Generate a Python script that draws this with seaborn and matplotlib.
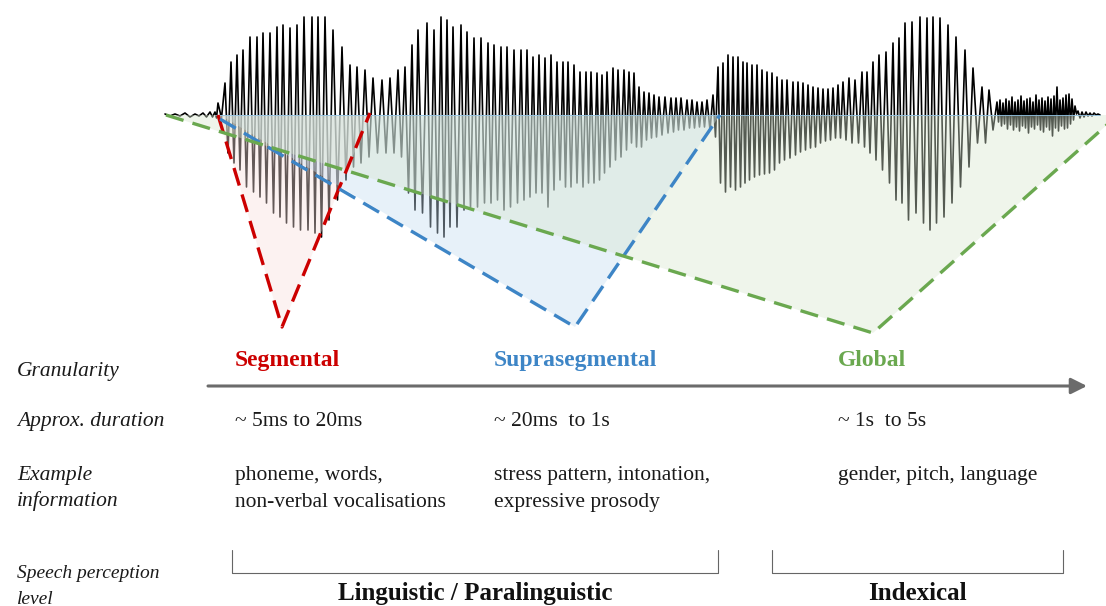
import numpy as np
import matplotlib
matplotlib.use("Agg")
import matplotlib.pyplot as plt
import seaborn as sns
import pandas as pd

# ---- waveform (pixel units, baseline y=115) ----
crest_x = [165, 175, 185, 195, 203, 210, 215, 218,
           225, 231, 237, 243, 250, 257, 263, 270, 277, 283, 290, 297, 304, 312,
           318, 325, 333, 342, 350, 357, 365, 373, 382, 390, 398, 405, 412, 418,
           427, 434, 441, 447, 453, 461, 467, 474, 481, 488, 494, 501, 507, 514,
           521, 527, 533, 539, 545, 551, 557, 563, 568, 574, 580, 586, 591, 597,
           602, 607, 613, 618, 624, 629, 634, 639, 644, 649, 654, 659, 665, 671,
           676, 681, 687, 692, 697, 702, 707, 713,
           718, 723, 728, 733, 738, 743, 747, 752, 757, 762, 767, 772, 777, 782,
           787, 793, 798, 803, 808, 813, 818, 823, 828, 833, 838, 843, 849, 855,
           862, 867, 873, 879, 886, 893, 899, 905, 912, 920, 927, 933, 940, 948,
           956, 965, 973, 982, 989, 997,
           1000, 1003, 1006, 1009, 1012, 1015, 1018, 1021, 1024, 1027, 1030, 1033,
           1036, 1039, 1042, 1045, 1048, 1051, 1054, 1057, 1060, 1063, 1066, 1069,
           1072, 1075, 1078, 1082, 1086, 1090, 1094, 1098]
crest_y = [114, 114, 113, 114, 113, 112, 112, 103,
           83, 62, 55, 50, 37, 37, 33, 33, 27, 25, 28, 25, 17, 17,
           17, 17, 30, 47, 65, 67, 70, 78, 80, 78, 70, 67, 45, 30,
           23, 30, 17, 20, 27, 25, 32, 38, 38, 43, 45, 47, 47, 50,
           50, 50, 57, 55, 58, 55, 62, 62, 62, 65, 72, 72, 72, 73,
           75, 72, 68, 70, 70, 72, 73, 87, 92, 93, 95, 97, 97, 98,
           98, 98, 100, 100, 102, 102, 100, 95,
           67, 63, 55, 57, 57, 62, 63, 65, 65, 70, 72, 73, 77, 80,
           80, 82, 82, 83, 85, 87, 88, 89, 89, 88, 85, 82, 78, 80,
           72, 72, 62, 55, 52, 43, 38, 23, 22, 17, 18, 17, 18, 25,
           37, 50, 68, 87, 90, 102,
           100, 103, 99, 101, 97, 102, 100, 96, 101, 99, 98, 102,
           95, 100, 98, 101, 97, 99, 96, 87, 100, 98, 95, 94,
           99, 106, 111, 112, 112, 113, 113, 114]
trough_y = [116, 116, 117, 116, 117, 117, 118, 118,
            153, 163, 170, 187, 192, 197, 203, 213, 217, 223, 227, 230, 230, 233,
            237, 220, 200, 180, 167, 163, 157, 153, 153, 153, 157, 193, 210, 213,
            227, 233, 237, 227, 227, 210, 207, 207, 203, 203, 200, 210, 207, 203,
            200, 197, 193, 193, 207, 190, 180, 187, 187, 183, 187, 183, 183, 180,
            173, 167, 160, 157, 150, 143, 147, 147, 140, 138, 137, 135, 133, 132,
            130, 130, 128, 128, 127, 127, 130, 137,
            183, 192, 187, 190, 187, 183, 180, 177, 175, 174, 173, 170, 163, 160,
            158, 155, 152, 150, 148, 147, 143, 141, 140, 138, 138, 140, 143, 143,
            147, 153, 160, 170, 183, 200, 203, 220, 213, 223, 230, 223, 217, 203,
            187, 167, 143, 143, 130, 122,
            126, 124, 129, 125, 130, 127, 131, 126, 128, 133, 127, 129,
            125, 130, 132, 127, 130, 136, 128, 131, 126, 129, 128, 124,
            120, 114, 118, 117, 116, 116, 115, 115]

# ---- granularity windows (triangles) ----
tri_names = ["Segmental", "Suprasegmental", "Global"]
tri_colors = ["#cc0000", "#3d85c6", "#6aa84f"]
tri_fills = ["#f9e0dd", "#c5def2", "#d7e6cf"]
tri_left = [(218, 115), (220, 119), (166, 115)]
tri_apex = [(282, 327), (575, 327), (873, 333)]
tri_right = [(370, 113), (720, 115), (1118, 115)]

# ---- table text ----
row_labels = [["Granularity"], ["Approx. duration"], ["Example", "information"],
              ["Speech perception", "level"]]
durations = ["~ 5ms to 20ms", "~ 20ms  to 1s", "~ 1s  to 5s"]
examples = [["phoneme, words,", "non-verbal vocalisations"],
            ["stress pattern, intonation,", "expressive prosody"],
            ["gender, pitch, language"]]
levels = ["Linguistic / Paralinguistic", "Indexical"]

sns.set_theme(style="white")
plt.rcParams["font.family"] = ["Liberation Serif", "DejaVu Serif"]

fig = plt.figure(figsize=(11.06, 6.06), dpi=100)
ax = fig.add_axes([0, 0, 1, 1])

# waveform as crest -> trough path
cx = np.array(crest_x, dtype=float)
nxt = np.append(cx[1:], cx[-1] + 4)
tx = (cx + nxt) / 2
wave = pd.DataFrame({
    "x": np.column_stack([cx, tx]).ravel(),
    "y": np.column_stack([crest_y, trough_y]).ravel(),
})
sns.lineplot(data=wave, x="x", y="y", sort=False, estimator=None,
             color="black", lw=1.2, ax=ax, zorder=1)
ax.set_xlim(0, 1106)
ax.set_ylim(606, 0)
ax.axis("off")

# shaded windows below the baseline
for left, apex, right, fc in zip(tri_left, tri_apex, tri_right, tri_fills):
    ax.fill([left[0], right[0], apex[0]], [115, 115, apex[1]],
            color=fc, alpha=0.4, lw=0, zorder=2)
ax.plot([215, 1100], [115, 115], color="#8fc1e3", lw=0.6, zorder=2)

for left, apex, right, col in zip(tri_left, tri_apex, tri_right, tri_colors):
    ax.plot([left[0], apex[0], right[0]], [left[1], apex[1], right[1]],
            color=col, lw=2.4, dashes=(5.5, 2.8), zorder=3,
            dash_capstyle="butt")

# granularity arrow
ax.annotate("", xy=(1087, 386), xytext=(208, 386),
            arrowprops=dict(arrowstyle="-|>", color="#6b6b6b", lw=2.2,
                            mutation_scale=24, shrinkA=0, shrinkB=0))

# row labels (first-line baselines)
label_y = [376, 426, 480, 578]
label_size = [15.5, 15.5, 15.5, 14]
for lines, y, fs in zip(row_labels, label_y, label_size):
    for k, line in enumerate(lines):
        ax.text(17, y + 26 * k, line, fontsize=fs, style="italic",
                color="#1a1a1a", va="baseline")

col_x = [235, 494, 838]
for name, col, x in zip(tri_names, tri_colors, col_x):
    ax.text(x, 366, name, fontsize=17, fontweight="bold", color=col, va="baseline")
for txt, x in zip(durations, col_x):
    ax.text(x, 426, txt, fontsize=15.5, color="#1a1a1a", va="baseline")
for lines, x in zip(examples, col_x):
    for k, line in enumerate(lines):
        ax.text(x, 480 + 27 * k, line, fontsize=15.5, color="#1a1a1a",
                va="baseline")

# perception level brackets
brackets = [(232, 718), (772, 1063)]
for (x0, x1), txt in zip(brackets, levels):
    ax.plot([x0, x0, x1, x1], [550, 573, 573, 550], color="#666666", lw=0.8,
            solid_joinstyle="round")
    ax.text((x0 + x1) / 2, 600, txt, fontsize=18, fontweight="bold",
            color="#111111", ha="center", va="baseline")

fig.savefig("out.png", dpi=100)
